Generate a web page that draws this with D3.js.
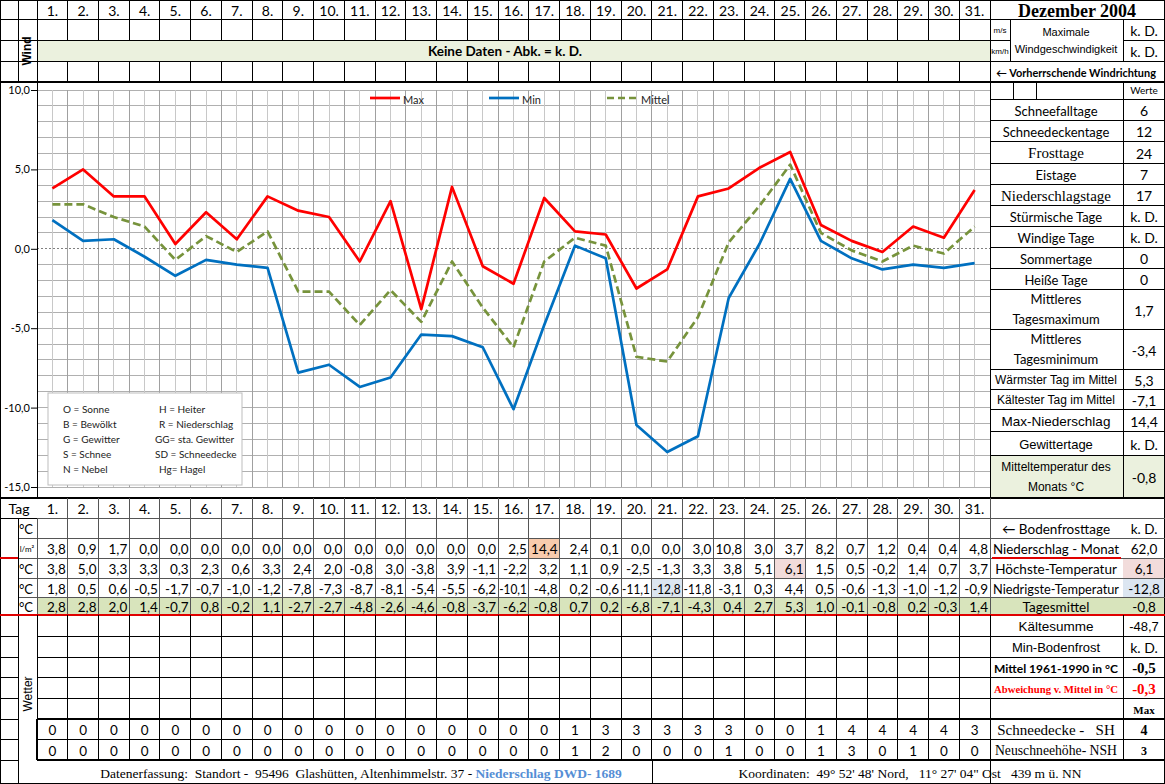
<!DOCTYPE html>
<html><head><meta charset="utf-8">
<script src="https://cdn.jsdelivr.net/npm/d3@7"></script>
<style>body{margin:0;background:#fff}svg{display:block}</style>
</head><body>
<svg id="c" width="1165" height="784"></svg>
<script>
// ---------- data ----------
const days = d3.range(1, 32);
const dayLabels = days.map(d => d + ".");
const tMax  = [3.8,5.0,3.3,3.3,0.3,2.3,0.6,3.3,2.4,2.0,-0.8,3.0,-3.8,3.9,-1.1,-2.2,3.2,1.1,0.9,-2.5,-1.3,3.3,3.8,5.1,6.1,1.5,0.5,-0.2,1.4,0.7,3.7];
const tMin  = [1.8,0.5,0.6,-0.5,-1.7,-0.7,-1.0,-1.2,-7.8,-7.3,-8.7,-8.1,-5.4,-5.5,-6.2,-10.1,-4.8,0.2,-0.6,-11.1,-12.8,-11.8,-3.1,0.3,4.4,0.5,-0.6,-1.3,-1.0,-1.2,-0.9];
const tMean = [2.8,2.8,2.0,1.4,-0.7,0.8,-0.2,1.1,-2.7,-2.7,-4.8,-2.6,-4.6,-0.8,-3.7,-6.2,-0.8,0.7,0.2,-6.8,-7.1,-4.3,0.4,2.7,5.3,1.0,-0.1,-0.8,0.2,-0.3,1.4];
const precip = [3.8,0.9,1.7,0.0,0.0,0.0,0.0,0.0,0.0,0.0,0.0,0.0,0.0,0.0,0.0,2.5,14.4,2.4,0.1,0.0,0.0,3.0,10.8,3.0,3.7,8.2,0.7,1.2,0.4,0.4,4.8];
const snowDepth = [0,0,0,0,0,0,0,0,0,0,0,0,0,0,0,0,0,1,3,3,3,3,3,0,0,1,4,4,4,4,3];
const newSnow   = [0,0,0,0,0,0,0,0,0,0,0,0,0,0,0,0,0,1,2,0,0,0,1,0,0,1,3,0,1,0,0];
const yTicks = [10, 5, 0, -5, -10, -15];
const seriesNames = ["Max", "Min", "Mittel"];
const codesLeft  = ["O = Sonne", "B = Bewölkt", "G = Gewitter", "S = Schnee", "N = Nebel"];
const codesRight = ["H = Heiter", "R = Niederschlag", "GG= sta. Gewitter", "SD = Schneedecke", "Hg= Hagel"];
const statLabels = ["Schneefalltage","Schneedeckentage","Frosttage","Eistage","Niederschlagstage","Stürmische Tage","Windige Tage","Sommertage","Heiße Tage","Mittleres|Tagesmaximum","Mittleres|Tagesminimum","Wärmster Tag im Mittel","Kältester Tag im Mittel","Max-Niederschlag","Gewittertage","Mitteltemperatur des|Monats °C"];
const statValues = ["6","12","24","7","17","k. D.","k. D.","0","0","1,7","-3,4","5,3","-7,1","14,4","k. D.","-0,8"];
const tableLabels = ["← Bodenfrosttage","Niederschlag - Monat","Höchste-Temperatur","Niedrigste-Temperatur","Tagesmittel"];
const tableValues = ["k. D.","62,0","6,1","-12,8","-0,8"];
const lowerLabels = ["Kältesumme","Min-Bodenfrost","Mittel 1961-1990 in °C","Abweichung v. Mittel in °C",""];
const lowerValues = ["-48,7","k. D.","-0,5","-0,3","Max"];
const snowLabels = ["Schneedecke -   SH","Neuschneehöhe- NSH"];
const snowMax = ["4","3"];

// ---------- helpers ----------
const CAL = "Lato, 'Open Sans', sans-serif";
const TIM = "'Liberation Serif', 'DejaVu Serif', serif";
const ARI = "'Liberation Sans', Arial, sans-serif";
const svg = d3.select("#c");
const fmt = v => v.toFixed(1).replace(".", ",");
function txt(x, y, s, o = {}) {
  const fs = o.s || 13;
  const t = svg.append("text").attr("x", x).attr("y", y).text(s)
    .attr("font-family", o.f || CAL).attr("font-size", fs)
    .attr("text-anchor", o.a || "middle").attr("dominant-baseline", "central")
    .attr("fill", o.c || "#000").style("white-space", "pre");
  if (o.w) t.attr("font-weight", o.w);
  if (o.rot) t.attr("transform", `rotate(${o.rot},${x},${y})`);
  if (o.max) {
    const L = t.node().getComputedTextLength();
    if (L > o.max) {
      if (o.squeeze) t.attr("textLength", o.max).attr("lengthAdjust", "spacingAndGlyphs");
      else t.attr("font-size", (fs * o.max / L).toFixed(2));
    }
  }
  return t;
}
function ln(x1, y1, x2, y2, c = "#000", w = 1, dash) {
  const l = svg.append("line").attr("x1", x1).attr("y1", y1).attr("x2", x2).attr("y2", y2)
    .attr("stroke", c).attr("stroke-width", w).attr("shape-rendering", "crispEdges");
  if (dash) l.attr("stroke-dasharray", dash);
  return l;
}
function box(x, y, w, h, fill) {
  svg.append("rect").attr("x", x).attr("y", y).attr("width", w).attr("height", h).attr("fill", fill);
}

const X0 = 37, X1 = 990, XV = 1123, W = 1165;
const xb = d3.scaleBand().domain(days).range([X0, X1]);
const bw = xb.bandwidth();
const xc = d => xb(d) + bw / 2;
const y = d3.scaleLinear().domain([-15, 10]).range([487, 90]);

// ---------- fills ----------
box(X0, 40, X1 - X0, 21, "#ebf1de");
box(X0, 597, X1 - X0, 18, "#d8e4bc");
box(X1, 597, W - X1, 18, "#d8e4bc");
box(X1, 455, W - X1, 43, "#ebf1de");
box(xb(17), 538, bw, 20, "#f8cbad");
box(xb(25), 558, bw, 20, "#f2dcdb");
box(xb(21), 578, bw, 19, "#dce6f1");
box(XV, 558, W - XV, 20, "#f2dcdb");
box(XV, 578, W - XV, 19, "#dce6f1");

// ---------- top wind section ----------
[0, 19, 40, 61].forEach(r => ln(0, r, r === 0 ? W : X1, r));
ln(X1, 19, W, 19); ln(X1, 40, 1010, 40); ln(XV, 40, W, 40); ln(X1, 61, W, 61);
ln(0, 82, W, 82, "#000", 1.5);
ln(0, 0, 0, 784, "#000", 1.5); ln(W - 0.5, 0, W - 0.5, 784, "#000", 1.5);
ln(18, 0, 18, 82); ln(X0, 0, X0, 82);
days.forEach(d => {
  ln(xb(d) + bw, 0, xb(d) + bw, 40);
  ln(xb(d) + bw, 61, xb(d) + bw, 82);
  txt(xc(d), 10, dayLabels[d - 1], { s: 14 });
});
ln(1010, 19, 1010, 61); ln(XV, 19, XV, 61);
txt(9 + 18, 51, "Wind", { s: 12, w: "bold", f: ARI, rot: -90 });
txt(505, 51, "Keine Daten - Abk. = k. D.", { s: 13.5, w: "bold" });
txt(1077, 11, "Dezember 2004", { f: TIM, s: 18, w: "bold" });
txt(1000, 30, "m/s", { f: ARI, s: 8, max: 18 });
txt(1000, 51, "km/h", { f: ARI, s: 8, max: 18 });
txt(1066, 32, "Maximale", { f: ARI, s: 11, max: 100 });
txt(1066, 49, "Windgeschwindigkeit", { f: ARI, s: 11, max: 104 });
txt(1144, 30, "k. D.", { s: 14 });
txt(1144, 51, "k. D.", { s: 14 });
txt(1076, 72, "← Vorherrschende Windrichtung", { s: 11.5, w: "bold", max: 160 });

// ---------- chart ----------
const gridG = svg.append("g");
d3.range(-15, 11).forEach(v => {
  if (v !== 0) gridG.append("line").attr("x1", X0).attr("x2", X1).attr("y1", y(v)).attr("y2", y(v))
    .attr("stroke", "#b0b0b0").attr("shape-rendering", "crispEdges");
});
d3.range(0, 63).forEach(i => {
  const x = X0 + i * bw / 2;
  gridG.append("line").attr("x1", x).attr("x2", x).attr("y1", y(10)).attr("y2", y(-15))
    .attr("stroke", i % 2 ? "#c8c8c8" : "#a0a0a0").attr("shape-rendering", "crispEdges");
});
ln(X0, y(0), X1, y(0), "#808080", 1, "2,2");
const yAxis = d3.axisLeft(y).tickValues(yTicks).tickSize(6).tickFormat(fmt);
const ax = svg.append("g").attr("transform", `translate(${X0},0)`).call(yAxis);
ax.select(".domain").attr("stroke", "#000");
ax.selectAll("line").attr("stroke", "#000");
ax.selectAll("text").attr("font-family", CAL).attr("font-size", 11).attr("x", -7).attr("fill", "#000");
ln(X0, 82, X0, 498); ln(X1, 0, X1, 784);

// code legend box
svg.append("rect").attr("x", 48).attr("y", 393).attr("width", 194).attr("height", 92)
  .attr("fill", "#fff").attr("stroke", "#bdbdbd");
codesLeft.forEach((s, i) => txt(63, 409 + i * 15, s, { s: 10, a: "start", c: "#222" }));
codesRight.forEach((s, i) => txt(i === 2 || i === 3 ? 155 : 159, 409 + i * 15, s, { s: 10, a: "start", c: "#222" }));

// series
const series = [
  { v: tMax, c: "#ff0000", dash: null },
  { v: tMin, c: "#0070c0", dash: null },
  { v: tMean, c: "#77933c", dash: "8,4" }
];
const line = d3.line().x((v, i) => xc(days[i])).y(v => y(v));
series.forEach(s => {
  const p = svg.append("path").datum(s.v).attr("d", line).attr("fill", "none")
    .attr("stroke", s.c).attr("stroke-width", 2.7).attr("stroke-linejoin", "round");
  if (s.dash) p.attr("stroke-dasharray", s.dash);
});
// series legend
const legX = [370, 489, 607];
series.forEach((s, i) => {
  const l = ln(legX[i], 98, legX[i] + 30, 98, s.c, 2.7);
  l.attr("shape-rendering", null);
  if (s.dash) l.attr("stroke-dasharray", "7,4");
  txt(legX[i] + (i === 2 ? 34 : 33), 99, seriesNames[i], { s: 11, a: "start", c: "#222" });
});

// ---------- right stats panel ----------
const statRows = [99, 120, 141, 163, 184, 205, 226, 247, 268, 289, 329, 369, 389, 409, 431, 455, 498];
ln(X1, 99, W, 99);
[1013, 1036].forEach(x => ln(x, 82, x, 99));
ln(XV, 82, XV, 498);
txt(1144, 90, "Werte", { s: 10 });
const statFont = [
  { f: CAL, s: 13 }, { f: CAL, s: 13 }, { f: TIM, s: 15 }, { f: CAL, s: 13 }, { f: TIM, s: 15 },
  { f: CAL, s: 13 }, { f: CAL, s: 13 }, { f: CAL, s: 13 }, { f: CAL, s: 13 }, { f: CAL, s: 13 }, { f: CAL, s: 13 },
  { f: ARI, s: 12 }, { f: ARI, s: 12 }, { f: ARI, s: 13.5 }, { f: ARI, s: 13 }, { f: ARI, s: 12 }
];
statLabels.forEach((lab, i) => {
  const t0 = statRows[i], t1 = statRows[i + 1];
  ln(X1, t1, W, t1);
  const parts = lab.split("|");
  const cy = (t0 + t1) / 2;
  if (parts.length === 1) txt(1056, cy + 1, lab, { ...statFont[i], max: 122 });
  else {
    txt(1056, cy - 10, parts[0], { ...statFont[i], max: 122 });
    txt(1056, cy + 10, parts[1], { ...statFont[i], max: 122 });
  }
  txt(1144, cy + 1, statValues[i], { s: 14, f: CAL });
});

// ---------- data table ----------
ln(0, 498, W, 498, "#000", 1.5);
const tRows = [498, 518, 538, 558, 578, 597, 615];
tRows.slice(1).forEach((r, i) => ln(18, r, W, r, i === 5 ? "#000" : "#555"));
ln(0, 518, 37, 518);
txt(19, 508, "Tag", { s: 14 });
ln(X0, 518, X0, 615, "#555");
days.forEach(d => {
  ln(xb(d) + bw, 498, xb(d) + bw, 615, "#555");
  txt(xc(d), 508, dayLabels[d - 1], { s: 14 });
});
ln(18, 518, 18, 784);
const units = ["°C", "l/m²", "°C", "°C", "°C"];
units.forEach((u, i) => txt(i === 1 ? 27 : 26, (tRows[i + 1] + tRows[i + 2]) / 2 + 1, u, { s: i === 1 ? 8 : 13, max: 16 }));
const rowsVals = [precip, tMax, tMin, tMean];
rowsVals.forEach((arr, r) => {
  const cy = (tRows[r + 2] + tRows[r + 3]) / 2 + 1;
  arr.forEach((v, i) => txt(xb(days[i]) + bw - 2, cy, fmt(v), { s: 13.5, a: "end", max: bw - 3, squeeze: true }));
});
tableLabels.forEach((lab, i) => {
  const cy = (tRows[i + 1] + tRows[i + 2]) / 2 + 1;
  txt(1056, cy, lab, { s: 13.5, max: 126 });
  txt(1144, cy, tableValues[i], { s: 13.5, max: 38 });
});
ln(0, 558, 18, 558, "#e00000", 1.2);
ln(X1 + 2, 558, XV - 2, 558, "#e00000", 1.2);
ln(0, 615, W, 615, "#e00000", 1.5);

// ---------- lower rows ----------
const lRows = [615, 636, 657, 677, 698, 719, 739, 760, 784];
lRows.slice(1, 8).forEach(r => ln(0, r, 18, r));
lRows.slice(1, 5).forEach(r => ln(X0, r, W, r));
days.forEach(d => ln(xb(d) + bw, 615, xb(d) + bw, 760));
ln(X0, 615, X0, 760);
txt(28, 694, "Wetter", { s: 12, f: ARI, rot: -90 });
const lowFont = [
  { f: ARI, s: 13.5 }, { f: ARI, s: 13 }, { f: CAL, s: 12.5, w: "bold" }, { f: TIM, s: 12.5, w: "bold", c: "#ff0000" }, { f: CAL, s: 12 }
];
const lowValFont = [
  { f: ARI, s: 13 }, { f: CAL, s: 14 }, { f: TIM, s: 15, w: "bold" }, { f: TIM, s: 15, w: "bold", c: "#ff0000" }, { f: TIM, s: 11, w: "bold" }
];
lowerLabels.forEach((lab, i) => {
  const cy = (lRows[i] + lRows[i + 1]) / 2 + 1;
  if (lab) txt(1056, cy, lab, { ...lowFont[i], max: 124 });
  txt(1144, cy, lowerValues[i], { ...lowValFont[i], max: 36 });
});
// snow block
[snowDepth, newSnow].forEach((arr, r) => {
  const cy = (lRows[5 + r] + lRows[6 + r]) / 2 + 1;
  arr.forEach((v, i) => txt(xc(days[i]), cy, String(v), { s: 13.5 }));
  txt(1056, cy, snowLabels[r], { f: TIM, s: 15, max: 122 });
  txt(1144, cy, snowMax[r], { f: TIM, s: r ? 12 : 14, w: "bold" });
});
ln(X0, 719, W, 719, "#000", 2.5);
ln(X0, 739, W, 739, "#000", 1);
ln(X0, 760, W, 760, "#000", 2.5);
ln(X0, 719, X0, 760, "#000", 2.5);
ln(XV, 615, XV, 760);

// ---------- footer ----------
ln(652, 760, 652, 784);
ln(0, 783.5, W, 783.5, "#000", 1.5);
const ft = svg.append("text").attr("x", 361).attr("y", 773).attr("text-anchor", "middle")
  .attr("dominant-baseline", "central").attr("font-family", TIM).attr("font-size", 13.5).style("white-space", "pre");
ft.append("tspan").text("Datenerfassung:  Standort -  95496  Glashütten, Altenhimmelstr. 37 - ");
ft.append("tspan").text("Niederschlag DWD- 1689").attr("fill", "#558ed5").attr("font-weight", "bold");
svg.append("text").attr("x", 910).attr("y", 773).attr("text-anchor", "middle").attr("dominant-baseline", "central")
  .attr("font-family", TIM).attr("font-size", 13.5).style("white-space", "pre")
  .text("Koordinaten:  49° 52' 48' Nord,   11° 27' 04\" Ost   439 m ü. NN");
</script>
</body></html>
